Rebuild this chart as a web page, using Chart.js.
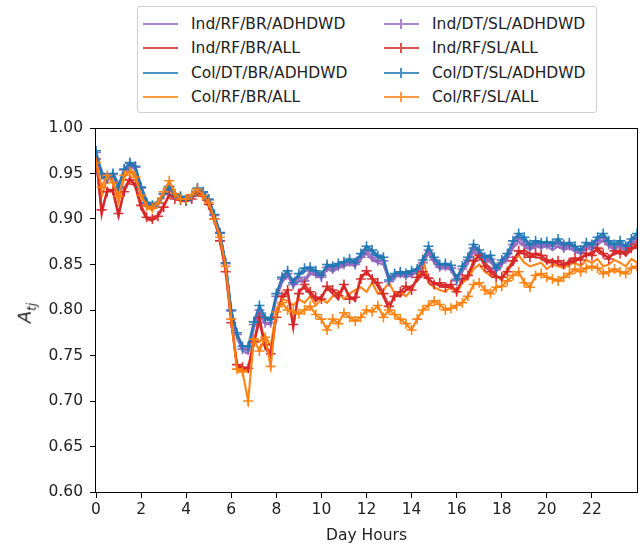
<!DOCTYPE html>
<html>
<head>
<meta charset="utf-8">
<script src="https://cdn.jsdelivr.net/npm/chart.js@4/dist/chart.umd.min.js"></script>
<style>
  body { margin: 0; background: #fff; font-family: "DejaVu Sans", sans-serif; }
  #wrap { position: relative; width: 644px; height: 547px; }
  #legend {
    position: absolute; left: 137px; top: 6px; width: 458px; height: 105px;
    border: 1px solid #d0d0d0; border-radius: 3px; background: #fff;
  }
  .item { position: absolute; height: 20px; font-size: 15.5px; color: #222; line-height: 20px; white-space: nowrap; }
  .handle { position: absolute; top: 9px; width: 35px; height: 2px; }
  .mark { position: absolute; left: 16px; top: -4px; width: 2px; height: 10px; }
  .txt { position: absolute; left: 48px; top: 0; }
  #ylab {
    position: absolute; left: 26px; top: 313px; transform: translate(-50%, -50%) rotate(-90deg);
    font-size: 18px; font-style: italic; color: #222; white-space: nowrap;
  }
  #ylab sub { font-size: 12px; }
</style>
</head>
<body>
<div id="wrap">
  <canvas id="chart" width="644" height="547"></canvas>
  <div id="legend"></div>
  <div id="ylab">A<sub>tj</sub></div>
</div>
<script>
// Datos (una muestra cada cuarto de hora, de 0 a 24 h)
const hourStep = 0.25;
const xTicks = [0, 2, 4, 6, 8, 10, 12, 14, 16, 18, 20, 22];
const yTicks = [0.6, 0.65, 0.7, 0.75, 0.8, 0.85, 0.9, 0.95, 1.0];

const seriesLabels = [
  "Ind/RF/BR/ADHDWD", "Ind/RF/BR/ALL", "Col/DT/BR/ADHDWD", "Col/RF/BR/ALL",
  "Ind/DT/SL/ADHDWD", "Ind/RF/SL/ALL", "Col/DT/SL/ADHDWD", "Col/RF/SL/ALL"
];

const indRfBrAdhdwd = [
  0.970, 0.948, 0.942, 0.948, 0.934, 0.952, 0.958, 0.954,
  0.934, 0.917, 0.913, 0.917, 0.926, 0.933, 0.926, 0.923,
  0.920, 0.924, 0.931, 0.928, 0.920, 0.903, 0.883, 0.849,
  0.797, 0.770, 0.755, 0.752, 0.780, 0.795, 0.785, 0.784,
  0.812, 0.830, 0.838, 0.826, 0.832, 0.830, 0.840, 0.838,
  0.835, 0.845, 0.842, 0.846, 0.848, 0.850, 0.848, 0.856,
  0.862, 0.855, 0.852, 0.850, 0.832, 0.836, 0.838, 0.836,
  0.838, 0.842, 0.850, 0.862, 0.852, 0.845, 0.846, 0.844,
  0.832, 0.842, 0.852, 0.864, 0.860, 0.852, 0.854, 0.842,
  0.850, 0.856, 0.868, 0.875, 0.870, 0.866, 0.870, 0.868,
  0.870, 0.866, 0.870, 0.866, 0.868, 0.864, 0.862, 0.868,
  0.866, 0.872, 0.876, 0.870, 0.866, 0.870, 0.864, 0.872,
  0.876
];
const indRfBrAll = [
  0.968, 0.905, 0.933, 0.930, 0.903, 0.933, 0.945, 0.935,
  0.912, 0.900, 0.898, 0.905, 0.915, 0.925, 0.924, 0.920,
  0.919, 0.924, 0.928, 0.924, 0.914, 0.898, 0.878, 0.845,
  0.790, 0.738, 0.735, 0.733, 0.762, 0.788, 0.758, 0.750,
  0.795, 0.812, 0.820, 0.780, 0.822, 0.824, 0.818, 0.810,
  0.815, 0.824, 0.818, 0.812, 0.826, 0.815, 0.810, 0.838,
  0.840, 0.836, 0.826, 0.815, 0.800, 0.818, 0.815, 0.822,
  0.826, 0.832, 0.840, 0.832, 0.830, 0.826, 0.828, 0.824,
  0.822, 0.830, 0.836, 0.850, 0.862, 0.852, 0.845, 0.838,
  0.833, 0.845, 0.850, 0.862, 0.866, 0.862, 0.858, 0.857,
  0.852, 0.855, 0.850, 0.848, 0.855, 0.853, 0.858, 0.860,
  0.864, 0.866, 0.860, 0.858, 0.862, 0.866, 0.860, 0.866,
  0.870
];
const colDtBrAdhdwd = [
  0.972, 0.952, 0.943, 0.951, 0.938, 0.953, 0.960, 0.956,
  0.937, 0.920, 0.913, 0.920, 0.927, 0.934, 0.929, 0.924,
  0.922, 0.925, 0.932, 0.929, 0.921, 0.904, 0.884, 0.850,
  0.798, 0.772, 0.758, 0.755, 0.784, 0.800, 0.790, 0.788,
  0.815, 0.833, 0.840, 0.832, 0.838, 0.843, 0.845, 0.841,
  0.840, 0.848, 0.846, 0.850, 0.851, 0.853, 0.855, 0.860,
  0.867, 0.864, 0.858, 0.855, 0.836, 0.838, 0.840, 0.842,
  0.841, 0.846, 0.852, 0.866, 0.856, 0.848, 0.850, 0.847,
  0.836, 0.846, 0.856, 0.869, 0.864, 0.855, 0.858, 0.848,
  0.853, 0.860, 0.872, 0.880, 0.877, 0.870, 0.874, 0.872,
  0.873, 0.870, 0.875, 0.870, 0.872, 0.868, 0.865, 0.872,
  0.870, 0.877, 0.881, 0.874, 0.870, 0.873, 0.868, 0.876,
  0.880
];
const colRfBrAll = [
  0.965, 0.925, 0.945, 0.942, 0.918, 0.945, 0.955, 0.948,
  0.928, 0.912, 0.910, 0.915, 0.926, 0.940, 0.926, 0.924,
  0.920, 0.926, 0.932, 0.928, 0.920, 0.902, 0.882, 0.850,
  0.795, 0.740, 0.732, 0.735, 0.770, 0.765, 0.772, 0.760,
  0.800, 0.812, 0.810, 0.805, 0.812, 0.808, 0.815, 0.805,
  0.812, 0.808, 0.815, 0.820, 0.812, 0.818, 0.822, 0.825,
  0.820, 0.830, 0.818, 0.822, 0.830, 0.818, 0.820, 0.815,
  0.822, 0.835, 0.858, 0.830, 0.825, 0.822, 0.820, 0.826,
  0.818, 0.830, 0.835, 0.845, 0.850, 0.842, 0.838, 0.836,
  0.835, 0.845, 0.855, 0.860, 0.852, 0.848, 0.850, 0.852,
  0.845, 0.850, 0.848, 0.846, 0.850, 0.852, 0.848, 0.855,
  0.852, 0.856, 0.848, 0.850, 0.855, 0.852, 0.848, 0.856,
  0.852
];
const indDtSlAdhdwd = [
  0.973, 0.949, 0.944, 0.949, 0.934, 0.954, 0.961, 0.957,
  0.934, 0.917, 0.914, 0.917, 0.927, 0.935, 0.926, 0.924,
  0.920, 0.925, 0.933, 0.929, 0.921, 0.904, 0.884, 0.851,
  0.799, 0.773, 0.757, 0.757, 0.784, 0.800, 0.786, 0.786,
  0.815, 0.834, 0.840, 0.828, 0.836, 0.832, 0.843, 0.840,
  0.836, 0.847, 0.845, 0.848, 0.850, 0.853, 0.850, 0.858,
  0.866, 0.858, 0.854, 0.854, 0.831, 0.838, 0.840, 0.838,
  0.840, 0.843, 0.852, 0.866, 0.855, 0.847, 0.848, 0.846,
  0.832, 0.845, 0.855, 0.868, 0.862, 0.855, 0.856, 0.844,
  0.852, 0.858, 0.872, 0.880, 0.872, 0.868, 0.872, 0.870,
  0.872, 0.870, 0.874, 0.868, 0.871, 0.867, 0.863, 0.870,
  0.869, 0.876, 0.880, 0.872, 0.869, 0.872, 0.867, 0.874,
  0.880
];
const indRfSlAll = [
  0.966, 0.910, 0.930, 0.932, 0.906, 0.930, 0.943, 0.938,
  0.915, 0.902, 0.900, 0.903, 0.913, 0.928, 0.922, 0.921,
  0.920, 0.922, 0.930, 0.925, 0.916, 0.900, 0.876, 0.842,
  0.786, 0.740, 0.737, 0.736, 0.765, 0.792, 0.762, 0.752,
  0.792, 0.815, 0.822, 0.784, 0.818, 0.828, 0.820, 0.814,
  0.812, 0.826, 0.822, 0.816, 0.828, 0.812, 0.814, 0.834,
  0.843, 0.834, 0.830, 0.818, 0.804, 0.815, 0.820, 0.826,
  0.822, 0.836, 0.842, 0.835, 0.828, 0.830, 0.825, 0.828,
  0.820, 0.834, 0.838, 0.854, 0.860, 0.848, 0.842, 0.836,
  0.836, 0.842, 0.854, 0.865, 0.862, 0.858, 0.862, 0.860,
  0.855, 0.852, 0.854, 0.850, 0.852, 0.857, 0.855, 0.862,
  0.860, 0.868, 0.862, 0.856, 0.865, 0.862, 0.864, 0.868,
  0.872
];
const colDtSlAdhdwd = [
  0.975, 0.950, 0.945, 0.950, 0.935, 0.955, 0.962, 0.958,
  0.935, 0.918, 0.915, 0.918, 0.928, 0.936, 0.927, 0.925,
  0.921, 0.926, 0.934, 0.930, 0.922, 0.905, 0.885, 0.852,
  0.800, 0.775, 0.760, 0.760, 0.787, 0.805, 0.792, 0.790,
  0.818, 0.836, 0.843, 0.830, 0.840, 0.846, 0.847, 0.843,
  0.838, 0.850, 0.848, 0.851, 0.853, 0.856, 0.852, 0.862,
  0.870, 0.866, 0.860, 0.858, 0.833, 0.840, 0.842, 0.840,
  0.843, 0.845, 0.855, 0.870, 0.858, 0.850, 0.851, 0.849,
  0.834, 0.848, 0.858, 0.872, 0.866, 0.858, 0.860, 0.846,
  0.855, 0.862, 0.876, 0.884, 0.880, 0.872, 0.876, 0.874,
  0.875, 0.873, 0.878, 0.872, 0.874, 0.870, 0.866, 0.874,
  0.872, 0.880, 0.884, 0.876, 0.872, 0.876, 0.870, 0.878,
  0.884
];
const colRfSlAll = [
  0.962, 0.935, 0.948, 0.940, 0.925, 0.948, 0.952, 0.946,
  0.926, 0.914, 0.912, 0.918, 0.930, 0.942, 0.928, 0.922,
  0.922, 0.927, 0.933, 0.926, 0.918, 0.900, 0.880, 0.848,
  0.790, 0.735, 0.732, 0.700, 0.768, 0.755, 0.770, 0.738,
  0.798, 0.808, 0.800, 0.798, 0.796, 0.800, 0.804, 0.795,
  0.790, 0.778, 0.790, 0.785, 0.797, 0.792, 0.788, 0.792,
  0.800, 0.798, 0.805, 0.792, 0.800, 0.795, 0.790, 0.785,
  0.778, 0.790, 0.800, 0.805, 0.810, 0.806, 0.800, 0.802,
  0.805, 0.808, 0.815, 0.828, 0.830, 0.822, 0.818, 0.825,
  0.826, 0.832, 0.838, 0.842, 0.830, 0.825, 0.838, 0.840,
  0.836, 0.834, 0.832, 0.836, 0.840, 0.845, 0.842, 0.846,
  0.848, 0.846, 0.840, 0.842, 0.845, 0.842, 0.840, 0.846,
  0.848
];

const seriesValues = [
  indRfBrAdhdwd, indRfBrAll, colDtBrAdhdwd, colRfBrAll,
  indDtSlAdhdwd, indRfSlAll, colDtSlAdhdwd, colRfSlAll
];
const colors = ["#9467bd", "#d62728", "#1f77b4", "#ff7f0e", "#9467bd", "#d62728", "#1f77b4", "#ff7f0e"];
const withMarker = [false, false, false, false, true, true, true, true];

const textColor = "#222";
const tickFont = { family: "DejaVu Sans", size: 15.5 };

// Marco completo alrededor del área (como matplotlib)
const framePlugin = {
  id: "frame",
  afterDatasetsDraw(chart) {
    const { left, top, right, bottom } = chart.chartArea;
    const ctx = chart.ctx;
    ctx.save();
    ctx.strokeStyle = "#000";
    ctx.lineWidth = 1;
    ctx.strokeRect(Math.round(left) - 0.5, Math.round(top) + 0.5, Math.round(right - left) + 1, Math.round(bottom - top));
    ctx.restore();
  },
};

const datasets = seriesValues.map((vals, i) => ({
  label: seriesLabels[i],
  data: vals.map((v, k) => ({ x: k * hourStep, y: v })),
  borderColor: colors[i] + "ee",
  backgroundColor: colors[i],
  borderWidth: 2.2,
  pointStyle: "cross",
  pointRadius: withMarker[i] ? 5 : 0,
  pointBorderWidth: 1.6,
  pointBorderColor: colors[i] + "ee",
  tension: 0,
  order: 8 - i,
}));

new Chart(document.getElementById("chart"), {
  type: "line",
  data: { datasets },
  options: {
    responsive: false,
    animation: false,
    layout: { padding: { left: 0, right: 7, top: 128, bottom: 0 } },
    plugins: { legend: { display: false }, tooltip: { enabled: false } },
    scales: {
      x: {
        type: "linear",
        min: 0,
        max: 24,
        afterBuildTicks: (s) => { s.ticks = xTicks.map((v) => ({ value: v })); },
        afterFit: (s) => { s.height = 55; },
        ticks: { font: tickFont, color: textColor, padding: 3, maxRotation: 0, autoSkip: false, callback: (v) => String(v) },
        grid: { display: true, drawOnChartArea: false, drawTicks: true, tickLength: 6, color: "#000" },
        border: { display: false },
        title: { display: true, text: "Day Hours", font: tickFont, color: textColor, padding: { top: 0, bottom: 2 } },
      },
      y: {
        min: 0.6,
        max: 1.0,
        afterBuildTicks: (s) => { s.ticks = yTicks.map((v) => ({ value: v })); },
        afterFit: (s) => { s.width = 96; },
        ticks: { font: tickFont, color: textColor, padding: 7, autoSkip: false, callback: (v) => Number(v).toFixed(2) },
        grid: { display: true, drawOnChartArea: false, drawTicks: true, tickLength: 6, color: "#000" },
        border: { display: false },
      },
    },
  },
  plugins: [framePlugin],
});

// Leyenda en dos columnas (orden por columnas)
const legend = document.getElementById("legend");
const rowTops = [7, 31, 56, 80];
seriesLabels.forEach((label, i) => {
  const col = Math.floor(i / 4);
  const row = i % 4;
  const item = document.createElement("div");
  item.className = "item";
  item.style.left = (col === 0 ? 5 : 246) + "px";
  item.style.top = rowTops[row] + "px";
  const handle = document.createElement("div");
  handle.className = "handle";
  handle.style.background = colors[i];
  handle.style.opacity = 0.8;
  if (withMarker[i]) {
    const mark = document.createElement("div");
    mark.className = "mark";
    mark.style.background = colors[i];
    handle.appendChild(mark);
  }
  const txt = document.createElement("span");
  txt.className = "txt";
  txt.textContent = label;
  item.appendChild(handle);
  item.appendChild(txt);
  legend.appendChild(item);
});
</script>
</body>
</html>
